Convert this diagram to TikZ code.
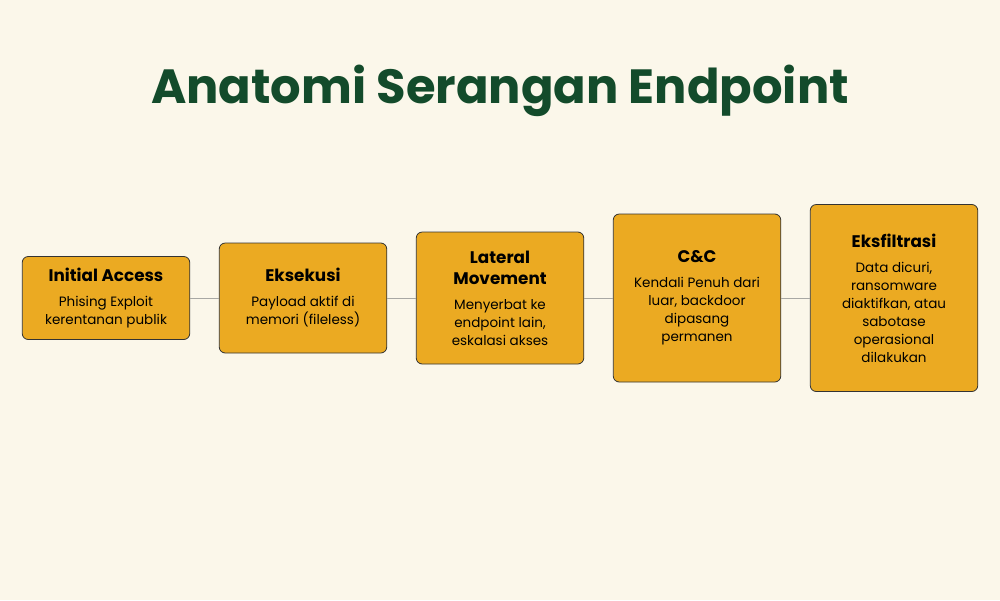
\documentclass[tikz,border=0pt]{standalone}
\usepackage{fontspec}
\setmainfont{Poppins}
\usetikzlibrary{positioning}
\definecolor{bgcream}{HTML}{FBF7EA}
\definecolor{titlegreen}{HTML}{134B2B}
\definecolor{stagegold}{HTML}{EBAA22}
\definecolor{linkgray}{HTML}{A8A8A4}
\newcommand{\stagehead}[1]{{\fontsize{16.8pt}{21pt}\selectfont\bfseries #1}}

\begin{document}
\begin{tikzpicture}[x=1pt,y=-1pt,
  stage/.style={draw=black!80,fill=stagegold,rounded corners=6pt,line width=0.8pt,minimum width=167.5pt,align=center,inner sep=4pt,font=\fontsize{13.5pt}{18pt}\selectfont},
  link/.style={draw=linkgray,line width=1pt}]
\useasboundingbox[fill=bgcream] (0,0) rectangle (1000,600);
\node[anchor=base,text=titlegreen,font=\fontsize{48pt}{50pt}\selectfont\bfseries] (title) at (500,103) {Anatomi Serangan Endpoint};
\node[stage,minimum height=83pt] (access) at (106,298) {\stagehead{Initial Access}\\[7pt]Phising Exploit\\kerentanan publik};
\node[stage,minimum height=110pt,right=28.7pt of access] (exec) {\stagehead{Eksekusi}\\[7pt]Payload aktif di\\memori (fileless)}; \path[link] (access) edge (exec);
\node[stage,minimum height=132pt,right=28.7pt of exec] (lateral) {\stagehead{Lateral}\\[3pt]\stagehead{Movement}\\[7pt]Menyerbat ke\\endpoint lain,\\eskalasi akses}; \path[link] (exec) edge (lateral);
\node[stage,minimum height=168pt,right=28.7pt of lateral] (cnc) {\stagehead{C\&C}\\[7pt]Kendali Penuh dari\\luar, backdoor\\dipasang\\permanen}; \path[link] (lateral) edge (cnc);
\node[stage,minimum height=187pt,right=28.7pt of cnc] (exfil) {\stagehead{Eksfiltrasi}\\[7pt]Data dicuri,\\ransomware\\diaktifkan, atau\\sabotase\\operasional\\dilakukan}; \path[link] (cnc) edge (exfil);
\end{tikzpicture}
\end{document}
